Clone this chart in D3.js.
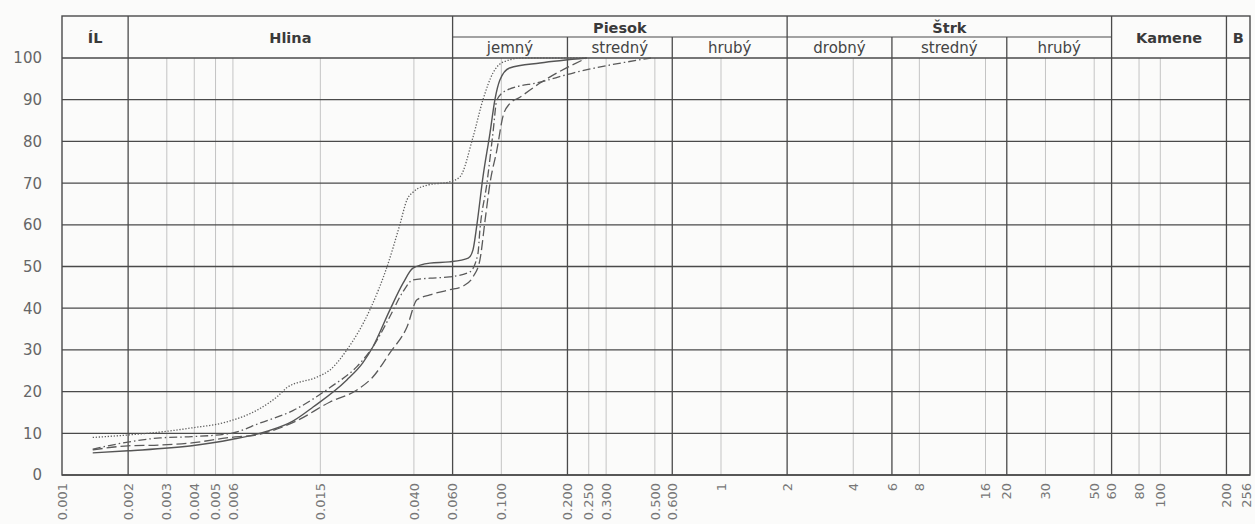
<!DOCTYPE html>
<html><head><meta charset="utf-8">
<script src="https://cdn.jsdelivr.net/npm/d3@7"></script>
<style>
body{margin:0;background:#fbfbfa;}
svg{display:block;}
</style>
</head><body>
<svg id="chart" width="1255" height="524"></svg>
<script>
// ---- data ----
const tickValues = [0.001,0.002,0.003,0.004,0.005,0.006,0.015,0.040,0.060,0.100,0.200,0.250,0.300,0.500,0.600,1,2,4,6,8,16,20,30,50,60,80,100,200,256];
const tickLabels = ["0.001","0.002","0.003","0.004","0.005","0.006","0.015","0.040","0.060","0.100","0.200","0.250","0.300","0.500","0.600","1","2","4","6","8","16","20","30","50","60","80","100","200","256"];
const majorValues = [0.002,0.06,0.2,0.6,2,6,20,60,200];
const yTicks = [0,10,20,30,40,50,60,70,80,90,100];

const groupLabels = ["ÍL","Hlina","Piesok","Štrk","Kamene","B"];
const groupBounds = [0.001,0.002,0.06,2,60,200,256];
const subLabels = ["jemný","stredný","hrubý","drobný","stredný","hrubý"];
const subBounds = [0.06,0.2,0.6,2,6,20,60];

// series: grain size (mm) and percent passing
const sizesDotted = [0.00138,0.002,0.0028,0.0039,0.0056,0.0080,0.0095,0.0106,0.0145,0.0166,0.0198,0.0252,0.0302,0.0345,0.0372,0.040,0.0459,0.058,0.0648,0.0743,0.0825,0.0916,0.1017,0.125,0.245];
const passDotted  = [9.0,9.6,10.3,11.3,12.7,16.0,18.7,21.0,23.5,25.2,30.0,39.6,50.0,60.0,66.0,68.0,69.5,70.3,71.5,81.0,90.0,96.4,99.0,100,100];

const sizesSolid = [0.00138,0.002,0.0039,0.0059,0.0086,0.0113,0.0139,0.0198,0.0234,0.0260,0.0311,0.0357,0.0396,0.0473,0.058,0.0707,0.0743,0.0774,0.0825,0.0888,0.0935,0.0985,0.109,0.150,0.245];
const passSolid  = [5.3,5.8,7.0,8.5,10.5,13.0,16.3,22.8,26.9,30.7,39.6,46.0,49.6,50.8,51.1,52.0,54.0,60.0,71.5,82.0,90.0,94.7,97.6,98.8,100];

const sizesDashDot = [0.00138,0.0019,0.0028,0.0039,0.0059,0.0080,0.0113,0.0166,0.0220,0.0260,0.0311,0.0357,0.0396,0.0473,0.058,0.0719,0.0782,0.0799,0.0860,0.0916,0.0955,0.106,0.150,0.212,0.48];
const passDashDot  = [6.2,7.7,8.9,9.2,10.0,12.5,15.5,21.0,26.0,30.7,38.0,44.0,46.8,47.2,47.5,48.7,53.0,58.8,70.0,82.0,90.0,92.3,94.2,96.4,100];

const sizesDashed = [0.00138,0.002,0.0028,0.0039,0.0056,0.0080,0.0117,0.0166,0.0220,0.0260,0.0311,0.0372,0.0413,0.0473,0.058,0.0669,0.0743,0.0799,0.0843,0.0888,0.0955,0.1017,0.109,0.1215,0.150,0.179,0.245];
const passDashed  = [6.0,7.0,7.2,7.7,8.9,9.8,13.0,17.5,20.4,23.5,29.3,35.5,42.0,43.2,44.4,45.3,47.5,51.6,61.0,70.0,78.0,86.0,89.0,90.6,94.0,96.4,100];

(function(){
// ---- layout ----
const svg = d3.select("#chart");
const L = 62, R = 1250, T = 58, B = 475, headTop = 16, headMid = 37;
const x = d3.scaleLog().domain([0.001,256]).range([L,R]);
const y = d3.scaleLinear().domain([0,100]).range([B,T]);

const dark = "#4a4a4a", light = "#c4c4c4";

// minor vertical gridlines
const minorValues = tickValues.filter(v => !majorValues.includes(v) && v !== 0.001 && v !== 256);
svg.append("g").selectAll("line").data(minorValues).join("line")
  .attr("x1", d => x(d)).attr("x2", d => x(d))
  .attr("y1", T).attr("y2", B)
  .attr("stroke", light).attr("stroke-width", 1);

// horizontal gridlines
svg.append("g").selectAll("line").data(yTicks).join("line")
  .attr("x1", L).attr("x2", R)
  .attr("y1", d => y(d)).attr("y2", d => y(d))
  .attr("stroke", dark).attr("stroke-width", 1.3);

// major verticals
svg.append("g").selectAll("line").data(majorValues).join("line")
  .attr("x1", d => x(d)).attr("x2", d => x(d))
  .attr("y1", d => (subBounds.includes(d) && !groupBounds.includes(d)) ? headMid : headTop)
  .attr("y2", B)
  .attr("stroke", dark).attr("stroke-width", 1.3);

// borders
svg.append("rect").attr("x", L).attr("y", headTop)
  .attr("width", R-L).attr("height", B-headTop)
  .attr("fill","none").attr("stroke", dark).attr("stroke-width", 1.4);
svg.append("line").attr("x1", x(0.06)).attr("x2", x(60))
  .attr("y1", headMid).attr("y2", headMid).attr("stroke", dark).attr("stroke-width", 1.2);

// header labels
const groups = groupLabels.map((l,i) => ({label:l, a:groupBounds[i], b:groupBounds[i+1]}));
svg.append("g").selectAll("text").data(groups).join("text")
  .attr("x", d => (x(d.a)+x(d.b))/2)
  .attr("y", d => (d.label==="Piesok"||d.label==="Štrk") ? 33 : 43)
  .attr("text-anchor","middle")
  .attr("font-family","DejaVu Sans, sans-serif").attr("font-weight","bold")
  .attr("font-size", 14.5).attr("fill","#3a3a3a")
  .text(d => d.label);

const subs = subLabels.map((l,i) => ({label:l, a:subBounds[i], b:subBounds[i+1]}));
svg.append("g").selectAll("text").data(subs).join("text")
  .attr("x", d => (x(d.a)+x(d.b))/2)
  .attr("y", 53)
  .attr("text-anchor","middle")
  .attr("font-family","DejaVu Sans, sans-serif")
  .attr("font-size", 15).attr("fill","#444")
  .text(d => d.label);

// y labels
svg.append("g").selectAll("text").data(yTicks).join("text")
  .attr("x", 42).attr("y", d => y(d)).attr("dy","0.36em")
  .attr("text-anchor","end")
  .attr("font-family","DejaVu Sans, sans-serif")
  .attr("font-size", 15).attr("fill","#666")
  .text(d => d);

// x labels (rotated)
const xl = tickValues.map((v,i) => ({v, label: tickLabels[i]}));
svg.append("g").selectAll("text").data(xl).join("text")
  .attr("transform", d => `translate(${Math.min(x(d.v), 1246)},483) rotate(-90)`)
  .attr("dy","0.36em")
  .attr("text-anchor","end")
  .attr("font-family","DejaVu Sans, sans-serif")
  .attr("font-size", 13).attr("fill","#777")
  .text(d => d.label);

// curves
const line = d3.line().x(d => x(d[0])).y(d => y(d[1])).curve(d3.curveMonotoneX);
const series = [
  {s:sizesDotted, p:passDotted, dash:"1.3,1.7", w:1.3, c:"#5f5f5f"},
  {s:sizesSolid, p:passSolid, dash:null, w:1.4, c:"#555"},
  {s:sizesDashDot, p:passDashDot, dash:"8,3,1.5,3", w:1.3, c:"#5a5a5a"},
  {s:sizesDashed, p:passDashed, dash:"10,4", w:1.3, c:"#5a5a5a"}
];
svg.append("g").selectAll("path").data(series).join("path")
  .attr("d", d => line(d.s.map((v,i) => [v, d.p[i]])))
  .attr("fill","none").attr("stroke", d => d.c).attr("stroke-width", d => d.w)
  .attr("stroke-dasharray", d => d.dash);
})();
</script>
</body></html>
